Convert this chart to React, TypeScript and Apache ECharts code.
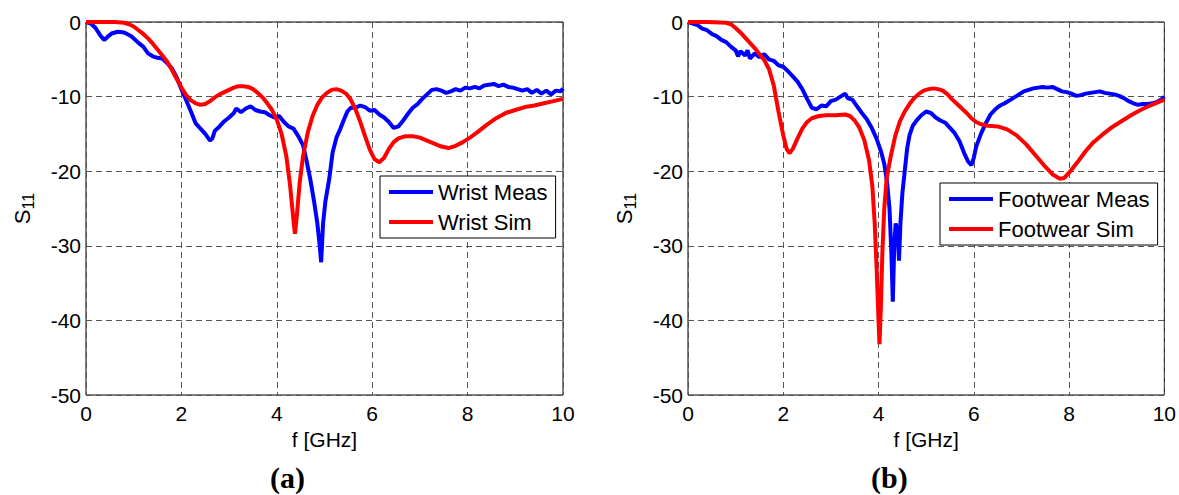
import React, { useEffect, useRef } from "react";
import * as echarts from "echarts";

// ---------- data ----------
const wristMeasFreq = [0, 0.1, 0.2, 0.3, 0.38, 0.45, 0.55, 0.67, 0.8, 0.95, 1.1, 1.2, 1.3, 1.4, 1.5, 1.6, 1.7, 1.8, 1.9, 2.0, 2.1, 2.2, 2.3, 2.4, 2.5, 2.6, 2.65, 2.7, 2.8, 2.9, 3.0, 3.1, 3.15, 3.25, 3.35, 3.45, 3.55, 3.65, 3.75, 3.85, 3.95, 4.05, 4.15, 4.25, 4.35, 4.45, 4.55, 4.62, 4.7, 4.78, 4.85, 4.9, 4.93, 4.97, 5.02, 5.1, 5.17, 5.25, 5.32, 5.4, 5.48, 5.55, 5.65, 5.75, 5.85, 5.95, 6.05, 6.15, 6.25, 6.35, 6.45, 6.55, 6.65, 6.75, 6.85, 6.95, 7.05, 7.15, 7.25, 7.35, 7.45, 7.55, 7.65, 7.75, 7.85, 7.95, 8.05, 8.15, 8.25, 8.35, 8.45, 8.55, 8.65, 8.75, 8.85, 8.95, 9.05, 9.15, 9.25, 9.35, 9.45, 9.55, 9.65, 9.75, 9.85, 9.95, 10];
const wristMeasS11 = [0, -0.2, -0.8, -1.8, -2.4, -2.0, -1.5, -1.3, -1.4, -1.9, -2.8, -3.3, -4.2, -4.6, -4.8, -4.9, -5.5, -6.2, -7.4, -9.0, -10.5, -12.0, -13.6, -14.3, -15.0, -15.9, -15.6, -14.6, -14.0, -13.3, -12.8, -12.2, -11.6, -12.1, -11.6, -11.3, -11.8, -12.0, -12.1, -12.5, -12.8, -12.6, -13.4, -14.0, -14.3, -15.3, -16.5, -18.5, -21, -24, -27, -30, -32.2, -27, -24, -21, -17.5, -15.5, -14.5, -13.2, -12.0, -11.5, -11.5, -11.2, -11.4, -11.9, -11.8, -12.4, -12.8, -13.4, -14.2, -14.0, -13.2, -12.3, -11.5, -11.0, -10.3, -9.7, -9.1, -9.0, -9.2, -9.5, -9.3, -9.0, -9.2, -8.8, -8.9, -8.7, -8.9, -8.5, -8.4, -8.3, -8.6, -8.4, -8.7, -8.8, -9.0, -9.2, -9.0, -9.5, -9.1, -9.6, -9.2, -9.7, -9.2, -9.3, -8.9];

const wristSimFreq = [0, 0.3, 0.6, 0.8, 0.9, 1.0, 1.1, 1.2, 1.3, 1.4, 1.5, 1.6, 1.7, 1.8, 1.9, 2.0, 2.1, 2.2, 2.3, 2.4, 2.5, 2.6, 2.7, 2.8, 2.9, 3.0, 3.1, 3.2, 3.3, 3.4, 3.5, 3.6, 3.7, 3.8, 3.9, 4.0, 4.1, 4.2, 4.28, 4.34, 4.38, 4.42, 4.48, 4.55, 4.65, 4.75, 4.85, 4.95, 5.05, 5.15, 5.25, 5.35, 5.45, 5.55, 5.65, 5.75, 5.85, 5.95, 6.05, 6.15, 6.25, 6.35, 6.45, 6.55, 6.7, 6.85, 7.0, 7.15, 7.3, 7.45, 7.6, 7.75, 7.9, 8.05, 8.2, 8.4, 8.6, 8.8, 9.0, 9.2, 9.4, 9.6, 9.8, 10];
const wristSimS11 = [0, 0, 0, -0.1, -0.3, -0.6, -1.1, -1.6, -2.2, -2.9, -3.7, -4.5, -5.3, -6.4, -7.6, -8.8, -9.8, -10.5, -10.9, -11.1, -11.0, -10.6, -10.1, -9.7, -9.4, -9.1, -8.8, -8.6, -8.6, -8.7, -9.0, -9.5, -10.1, -10.9, -11.8, -13.1, -15.0, -18.0, -22, -26, -28.4, -26, -21.5, -18, -14.8, -12.6, -11.1, -10.1, -9.5, -9.1, -9.0, -9.2, -9.6, -10.4, -11.7, -13.4, -15.3, -17.1, -18.4, -18.8, -18.2, -17.0, -16.1, -15.6, -15.3, -15.3, -15.5, -15.9, -16.3, -16.7, -16.9, -16.6, -16.1, -15.5, -14.8, -13.8, -12.9, -12.2, -11.8, -11.4, -11.2, -10.9, -10.6, -10.3];

const footMeasFreq = [0, 0.1, 0.2, 0.3, 0.4, 0.5, 0.6, 0.7, 0.8, 0.9, 1.0, 1.05, 1.1, 1.2, 1.25, 1.3, 1.4, 1.5, 1.6, 1.7, 1.8, 1.9, 2.0, 2.1, 2.2, 2.3, 2.4, 2.5, 2.6, 2.7, 2.8, 2.9, 3.0, 3.1, 3.2, 3.3, 3.35, 3.45, 3.55, 3.65, 3.75, 3.85, 3.95, 4.05, 4.12, 4.18, 4.23, 4.27, 4.3, 4.33, 4.36, 4.4, 4.43, 4.46, 4.5, 4.55, 4.6, 4.65, 4.72, 4.8, 4.9, 5.0, 5.1, 5.2, 5.3, 5.4, 5.5, 5.6, 5.7, 5.8, 5.88, 5.95, 6.0, 6.05, 6.15, 6.25, 6.35, 6.45, 6.55, 6.65, 6.75, 6.85, 6.95, 7.05, 7.15, 7.25, 7.35, 7.45, 7.55, 7.65, 7.75, 7.85, 7.95, 8.05, 8.15, 8.25, 8.35, 8.45, 8.55, 8.65, 8.75, 8.85, 8.95, 9.05, 9.15, 9.25, 9.35, 9.45, 9.55, 9.65, 9.75, 9.85, 9.95, 10];
const footMeasS11 = [0, -0.2, -0.4, -0.9, -1.1, -1.6, -1.9, -2.4, -2.7, -3.3, -3.8, -4.6, -3.9, -4.5, -3.8, -4.9, -4.2, -4.7, -4.3, -5.0, -5.2, -5.8, -6.0, -6.6, -7.3, -8.0, -9.0, -10.3, -11.5, -11.7, -11.2, -11.3, -10.6, -10.4, -10.0, -9.6, -10.2, -10.4, -11.3, -12.2, -13.0, -14.1, -15.5, -17.3, -19.0, -21.5, -25, -31, -37.5, -30, -27, -28, -32, -27, -23, -20, -17, -15.2, -13.9, -13.2, -12.5, -12.0, -12.2, -12.8, -13.2, -13.5, -14.2, -14.9, -16.0, -17.6, -18.7, -19.2, -18.2, -16.7, -15.0, -13.6, -12.4, -11.7, -11.2, -10.9, -10.5, -10.1, -9.7, -9.3, -9.1, -8.9, -8.8, -8.7, -8.8, -8.7, -9.0, -9.3, -9.4, -9.6, -9.9, -9.8, -9.6, -9.5, -9.4, -9.3, -9.5, -9.6, -9.7, -9.9, -10.2, -10.6, -10.9, -11.1, -11.0, -11.0, -10.9, -10.7, -10.3, -10.0];

const footSimFreq = [0, 0.4, 0.8, 0.9, 1.0, 1.1, 1.2, 1.3, 1.4, 1.5, 1.6, 1.7, 1.8, 1.9, 2.0, 2.07, 2.13, 2.2, 2.3, 2.4, 2.5, 2.6, 2.75, 2.9, 3.1, 3.3, 3.4, 3.5, 3.6, 3.7, 3.8, 3.87, 3.92, 3.96, 4.0, 4.02, 4.05, 4.08, 4.12, 4.17, 4.25, 4.35, 4.45, 4.55, 4.65, 4.75, 4.85, 4.95, 5.05, 5.15, 5.25, 5.35, 5.45, 5.55, 5.65, 5.75, 5.85, 5.95, 6.05, 6.15, 6.3, 6.5, 6.7, 6.9, 7.1, 7.3, 7.5, 7.65, 7.8, 7.9, 8.0, 8.1, 8.2, 8.35, 8.5, 8.7, 8.9, 9.1, 9.3, 9.5, 9.7, 9.85, 10];
const footSimS11 = [0, 0, -0.1, -0.3, -0.8, -1.4, -2.1, -2.8, -3.5, -4.3, -5.1, -6.3, -8.5, -12.0, -15.2, -17.0, -17.6, -17.0, -15.6, -14.3, -13.4, -12.9, -12.6, -12.5, -12.5, -12.4, -12.6, -13.2, -14.2, -15.8, -18.5, -22, -27, -33, -40, -43.2, -38, -31, -25, -21, -18.2, -15.3, -13.3, -12.0, -11.0, -10.2, -9.6, -9.2, -9.0, -8.9, -9.0, -9.2, -9.7, -10.4, -11.0, -11.6, -12.2, -12.9, -13.4, -13.7, -13.9, -14.0, -14.4, -15.2, -16.4, -17.9, -19.4, -20.4, -21.0, -20.9, -20.2, -19.4, -18.6, -17.3, -16.2, -15.1, -14.1, -13.3, -12.5, -11.8, -11.2, -10.8, -10.4];

const panelLabels = ["(a)", "(b)"];
const legendNamesA = ["Wrist Meas", "Wrist Sim"];
const legendNamesB = ["Footwear Meas", "Footwear Sim"];
const xAxisName = "f [GHz]";

const FONT = "Liberation Sans, Arial, Helvetica, sans-serif";
const BLUE = "#0000ff";
const RED = "#ff0000";

function pairs(x: number[], y: number[]) {
  return x.map((v, i) => [v, y[i]]);
}

function xAxisCfg(idx: number) {
  return {
    type: "value",
    gridIndex: idx,
    min: 0,
    max: 10,
    interval: 2,
    name: xAxisName,
    nameLocation: "middle",
    nameGap: 32,
    nameTextStyle: { fontFamily: FONT, fontSize: 21, color: "#000" },
    axisLine: { show: false },
    axisTick: { show: false },
    axisLabel: {
      fontFamily: FONT,
      fontSize: 21,
      color: "#000",
      margin: 8,
      showMinLabel: true,
      showMaxLabel: true,
    },
    splitLine: { show: true, lineStyle: { color: "#555", type: [6, 4], width: 1 } },
  };
}

function yAxisCfg(idx: number) {
  return {
    type: "value",
    gridIndex: idx,
    min: -50,
    max: 0,
    interval: 10,
    name: "{s|S}{sub|11}",
    nameLocation: "middle",
    nameRotate: 90,
    nameGap: 50,
    nameTextStyle: {
      fontFamily: FONT,
      color: "#000",
      rich: {
        s: { fontFamily: FONT, fontSize: 22, color: "#000" },
        sub: { fontFamily: FONT, fontSize: 16, color: "#000", padding: [12, 0, 0, 0] },
      },
    },
    axisLine: { show: false },
    axisTick: { show: false },
    axisLabel: {
      fontFamily: FONT,
      fontSize: 21,
      color: "#000",
      margin: 5,
      showMinLabel: true,
      showMaxLabel: true,
    },
    splitLine: { show: true, lineStyle: { color: "#555", type: [6, 4], width: 1 } },
  };
}

function legendCfg(names: string[], left: number, top: number) {
  return {
    orient: "vertical",
    left,
    top,
    data: names,
    icon: "rect",
    itemWidth: 44,
    itemHeight: 4,
    itemGap: 8,
    padding: [5, 8, 5, 9],
    borderColor: "#000",
    borderWidth: 1,
    backgroundColor: "#fff",
    textStyle: { fontFamily: FONT, fontSize: 22, color: "#000" },
  };
}

function lineSeries(name: string, data: number[][], color: string, idx: number) {
  return {
    type: "line",
    name,
    data,
    xAxisIndex: idx,
    yAxisIndex: idx,
    showSymbol: false,
    symbol: "none",
    clip: false,
    color,
    lineStyle: { color, width: 4 },
  };
}

export default function App() {
  const ref = useRef<HTMLDivElement>(null);
  useEffect(() => {
    document.body.style.margin = "0";
    const chart = echarts.init(ref.current!, null, { renderer: "svg" });
    const option: any = {
      animation: false,
      backgroundColor: "#fff",
      grid: [
        { left: 86, top: 22, width: 477, height: 373, show: true, borderColor: "#000", borderWidth: 1, backgroundColor: "transparent" },
        { left: 688, top: 22, width: 479, height: 373, show: true, borderColor: "#000", borderWidth: 1, backgroundColor: "transparent" },
      ],
      xAxis: [xAxisCfg(0), xAxisCfg(1)],
      yAxis: [yAxisCfg(0), yAxisCfg(1)],
      legend: [legendCfg(legendNamesA, 380, 176), legendCfg(legendNamesB, 940, 183)],
      series: [
        lineSeries(legendNamesA[0], pairs(wristMeasFreq, wristMeasS11), BLUE, 0),
        lineSeries(legendNamesA[1], pairs(wristSimFreq, wristSimS11), RED, 0),
        lineSeries(legendNamesB[0], pairs(footMeasFreq, footMeasS11), BLUE, 1),
        lineSeries(legendNamesB[1], pairs(footSimFreq, footSimS11), RED, 1),
      ],
      graphic: [
        {
          type: "text",
          left: 290 - 20,
          top: 462,
          style: { text: panelLabels[0], font: "bold 30px 'Liberation Serif', 'Times New Roman', serif", fill: "#000" },
        },
        {
          type: "text",
          left: 892 - 21,
          top: 462,
          style: { text: panelLabels[1], font: "bold 30px 'Liberation Serif', 'Times New Roman', serif", fill: "#000" },
        },
      ],
    };
    chart.setOption(option);
    return () => chart.dispose();
  }, []);
  return <div ref={ref} style={{ width: 1179, height: 495 }} />;
}
